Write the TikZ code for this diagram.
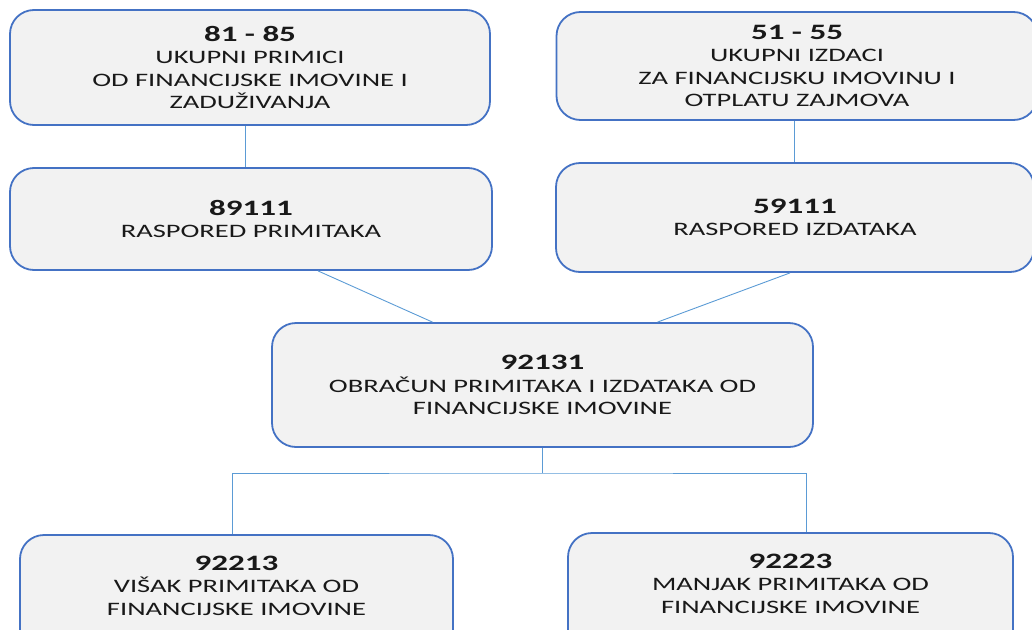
\documentclass[tikz,border=0pt]{standalone}
\usepackage{fontspec}
\setmainfont[FakeStretch=1.5]{Carlito}
\usetikzlibrary{positioning}

\definecolor{boxblue}{HTML}{4472C4}
\definecolor{linkblue}{HTML}{5B9BD5}
\definecolor{boxfill}{HTML}{F2F2F2}

\newcommand{\konto}[1]{{\fontsize{22}{24}\selectfont\bfseries #1}}

\begin{document}
\begin{tikzpicture}[x=1pt, y=-1pt,
	box/.style={draw=boxblue, line width=1.8pt, fill=boxfill, rounded corners=24pt,
		align=center, inner sep=0pt, text=black!90, font=\fontsize{19}{22.5}\selectfont},
	link/.style={draw=linkblue, line width=0.9pt}]
\useasboundingbox (0,0) rectangle (1032,629);

% top row
	\node[box, minimum width=480pt, minimum height=115pt] (ukprim) at (250,67.5)
		{\konto{81 - 85}\\ UKUPNI PRIMICI\\ OD FINANCIJSKE IMOVINE I\\ ZADUŽIVANJA};
	\node[box, minimum width=481pt, minimum height=108pt] (ukizd) at (797,66)
		{\konto{51 - 55}\\ UKUPNI IZDACI\\ ZA FINANCIJSKU IMOVINU I\\ OTPLATU ZAJMOVA};

% raspored
	\node[box, minimum width=482pt, minimum height=102pt] (rasprim) at (251,219)
		{\konto{89111}\\ RASPORED PRIMITAKA};
	\node[box, minimum width=478pt, minimum height=109pt] (rasizd) at (795,217.5)
		{\konto{59111}\\ RASPORED IZDATAKA};

% obracun
	\node[box, minimum width=541pt, minimum height=124pt] (obracun) at (542.5,385)
		{\konto{92131}\\ OBRAČUN PRIMITAKA I IZDATAKA OD\\ FINANCIJSKE IMOVINE};

% visak / manjak
	\node[box, minimum width=433pt, minimum height=124pt] (visak) at (236.5,597)
		{\konto{92213}\\ VIŠAK PRIMITAKA OD\\ FINANCIJSKE IMOVINE\\ \mbox{}};
	\node[box, minimum width=445pt, minimum height=124pt] (manjak) at (790.5,595)
		{\konto{92223}\\ MANJAK PRIMITAKA OD\\ FINANCIJSKE IMOVINE\\ \mbox{}};

% links
\draw[link] ([xshift=-5pt]ukprim.south) -- ([xshift=-6pt]rasprim.north);
\draw[link] ([xshift=-3pt]ukizd.south) -- ([xshift=-1pt]rasizd.north);
\draw[link] ([xshift=67pt]rasprim.south) -- ([xshift=-110pt]obracun.north);
\draw[link] ([xshift=-5pt]rasizd.south) -- ([xshift=115pt]obracun.north);

% fork to the results
\coordinate (fork) at (542.5,473);
\draw[link] (obracun.south) -- (fork);
\draw[link] ([xshift=-4pt]visak.north) |- (fork) -| ([xshift=15.5pt]manjak.north);

\end{tikzpicture}
\end{document}
